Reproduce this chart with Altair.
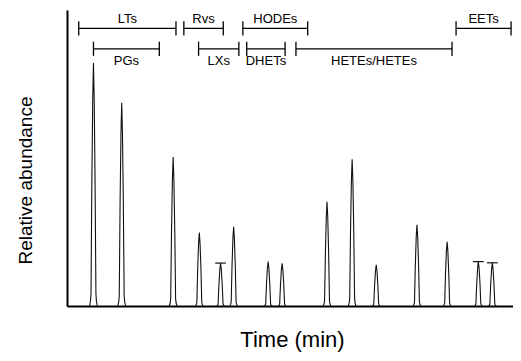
import altair as alt
import pandas as pd

# ---- data ----
peak_time = [1.78, 3.68, 7.14, 8.90, 10.33, 11.21, 13.53, 14.47, 17.49, 19.18,
             20.80, 23.54, 25.57, 27.67, 28.61]
peak_height = [82.1, 68.7, 50.3, 24.8, 14.5, 26.8, 15.0, 14.4, 35.2, 49.6,
               13.9, 27.4, 21.7, 15.0, 14.6]
capped_peaks = [4, 13, 14]

class_names = ["LTs", "Rvs", "HODEs", "EETs", "PGs", "LXs", "DHETs", "HETEs/HETEs"]
class_start = [0.79, 7.86, 11.83, 26.17, 1.78, 8.85, 12.09, 15.40]
class_end = [7.33, 10.51, 16.19, 29.87, 6.21, 11.56, 14.67, 25.90]
class_row = [1, 1, 1, 1, 2, 2, 2, 2]

# ---- styling / layout constants ----
FONT = "Liberation Sans"
ROW_LEVEL = {1: 93.8, 2: 86.9}
TICK_HALF = 2.4
CAP_HALF = 0.36
# peak outline profile: (time offset, fraction of height)
PROFILE = [(-0.26, 0.0), (-0.2, 0.02), (-0.165, 0.05), (-0.11, 0.5), (-0.05, 0.85),
           (0.0, 1.0), (0.05, 0.85), (0.11, 0.5), (0.165, 0.05), (0.2, 0.02), (0.26, 0.0)]

rows = []
for i, (t, h) in enumerate(zip(peak_time, peak_height)):
    for k, (dx, f) in enumerate(PROFILE):
        rows.append({"peak": i, "seq": k, "t": t + dx, "v": h * f})
peaks_df = pd.DataFrame(rows)

caps_df = pd.DataFrame({
    "t0": [peak_time[i] - CAP_HALF for i in capped_peaks],
    "t1": [peak_time[i] + CAP_HALF for i in capped_peaks],
    "v": [peak_height[i] for i in capped_peaks],
})

br_df = pd.DataFrame({
    "name": class_names, "start": class_start, "end": class_end, "row": class_row,
})
br_df["level"] = br_df["row"].map(ROW_LEVEL)
br_df["lo"] = br_df["level"] - TICK_HALF
br_df["hi"] = br_df["level"] + TICK_HALF
br_df["mid"] = (br_df["start"] + br_df["end"]) / 2
ticks_df = pd.concat([
    br_df[["start", "lo", "hi"]].rename(columns={"start": "t"}),
    br_df[["end", "lo", "hi"]].rename(columns={"end": "t"}),
])

xs = alt.Scale(domain=[0, 30], nice=False, zero=False)
ys = alt.Scale(domain=[0, 100], nice=False, zero=False)

peaks = alt.Chart(peaks_df).mark_line(color="#111", strokeWidth=1.1).encode(
    x=alt.X("t:Q", scale=xs, axis=alt.Axis(
        title="Time (min)", domain=True, domainColor="black", domainWidth=2,
        ticks=False, labels=False, grid=False,
        titleFont=FONT, titleFontSize=22, titleFontWeight="normal", titleColor="black",
        titleX=225, titleY=40, titleAlign="center", titleBaseline="alphabetic")),
    y=alt.Y("v:Q", scale=ys, axis=alt.Axis(
        title="Relative abundance", domain=True, domainColor="black", domainWidth=2,
        ticks=False, labels=False, grid=False,
        titleFont=FONT, titleFontSize=19, titleFontWeight="normal", titleColor="black",
        titleX=-42, titleY=170, titleAlign="center", titleBaseline="middle",
        titleAngle=270)),
    detail="peak:N",
    order="seq:Q",
)

caps = alt.Chart(caps_df).mark_rule(color="#111", strokeWidth=1.2).encode(
    x="t0:Q", x2="t1:Q", y="v:Q")

hlines = alt.Chart(br_df).mark_rule(color="black", strokeWidth=1.3).encode(
    x="start:Q", x2="end:Q", y="level:Q")

vticks = alt.Chart(ticks_df).mark_rule(color="black", strokeWidth=1.3).encode(
    x="t:Q", y="lo:Q", y2="hi:Q")

labels_top = alt.Chart(br_df[br_df["row"] == 1]).mark_text(
    font=FONT, fontSize=13, color="black", baseline="alphabetic", dy=-5).encode(
    x="mid:Q", y="level:Q", text="name:N")

labels_bot = alt.Chart(br_df[br_df["row"] == 2]).mark_text(
    font=FONT, fontSize=13, color="black", baseline="alphabetic", dy=16).encode(
    x="mid:Q", y="level:Q", text="name:N")

chart = alt.layer(peaks, caps, hlines, vticks, labels_top, labels_bot).properties(
    width=446, height=296,
    autosize=alt.AutoSizeParams(type="none"),
    padding={"left": 59, "top": 2, "right": 0, "bottom": 47},
).configure_view(stroke=None)

chart.save("out.html", embed_options={"renderer": "svg", "actions": False})
